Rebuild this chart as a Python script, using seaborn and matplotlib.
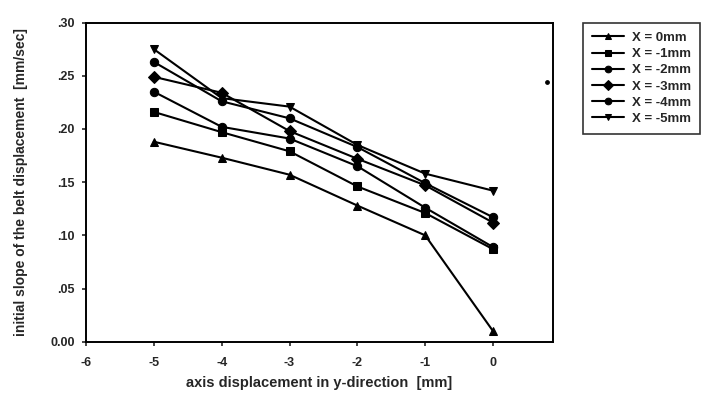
import pandas as pd
import matplotlib
matplotlib.use("Agg")
import matplotlib.pyplot as plt
from matplotlib.ticker import FuncFormatter
import seaborn as sns

# data
y_disp = [-5, -4, -3, -2, -1, 0]
x0 = [0.188, 0.173, 0.157, 0.128, 0.100, 0.010]
x1 = [0.216, 0.197, 0.179, 0.146, 0.121, 0.087]
x2 = [0.235, 0.202, 0.191, 0.165, 0.126, 0.089]
x3 = [0.249, 0.234, 0.198, 0.172, 0.147, 0.112]
x4 = [0.263, 0.226, 0.210, 0.183, 0.149, 0.117]
x5 = [0.275, 0.229, 0.221, 0.185, 0.158, 0.142]
labels = ["X = 0mm", "X = -1mm", "X = -2mm", "X = -3mm", "X = -4mm", "X = -5mm"]
marks = ["^", "s", "o", "D", "o", "v"]

# lone speck near the right frame
stray_x = [0.79]
stray_y = [0.244]

frames = []
for lab, vals in zip(labels, [x0, x1, x2, x3, x4, x5]):
    frames.append(pd.DataFrame({"y": y_disp, "v": vals, "series": lab}))
df = pd.concat(frames, ignore_index=True)

sns.set_style("ticks")
plt.rcParams["font.family"] = ["Liberation Sans", "DejaVu Sans"]
plt.rcParams["font.weight"] = "bold"
plt.rcParams["axes.unicode_minus"] = False

fig = plt.figure(figsize=(7.05, 3.96), dpi=100)
ax = fig.add_axes([0.122, 0.137, 0.662, 0.806])

sns.lineplot(
    data=df, x="y", y="v", hue="series", style="series",
    palette=["black"] * 6, markers=dict(zip(labels, marks)), dashes=False,
    markersize=6, linewidth=1.5, markeredgecolor="black", ax=ax,
)
ax.scatter(stray_x, stray_y, s=6, color="black", zorder=3)

ax.set_xlim(-6, 0.88)
ax.set_ylim(0, 0.30)
ax.set_xticks([-6, -5, -4, -3, -2, -1, 0])
ax.set_yticks([0, 0.05, 0.10, 0.15, 0.20, 0.25, 0.30])
ax.yaxis.set_major_formatter(
    FuncFormatter(lambda v, p: "0.00" if v == 0 else f"{v:.2f}".lstrip("0"))
)
ax.tick_params(labelsize=9, length=3, width=1.2, direction="out")
ax.tick_params(axis="x", pad=8)
ax.tick_params(axis="y", pad=5)
for s in ax.spines.values():
    s.set_linewidth(1.4)
    s.set_color("black")

ax.set_xlabel("axis displacement in y-direction  [mm]", fontsize=10.5, fontweight="bold", labelpad=5)
ax.set_ylabel("initial slope of the belt displacement  [mm/sec]", fontsize=10, fontweight="bold", labelpad=16)

handles, lbls = ax.get_legend_handles_labels()
leg = ax.legend(
    handles, lbls, loc="upper left", bbox_to_anchor=(1.065, 1.0),
    frameon=True, fancybox=False, edgecolor="black", fontsize=9.5,
    handlelength=2.4, labelspacing=0.3, borderpad=0.7, handletextpad=0.6,
    markerscale=0.8, borderaxespad=0,
)
leg.get_frame().set_linewidth(1.2)

fig.savefig("out.png", dpi=100)
